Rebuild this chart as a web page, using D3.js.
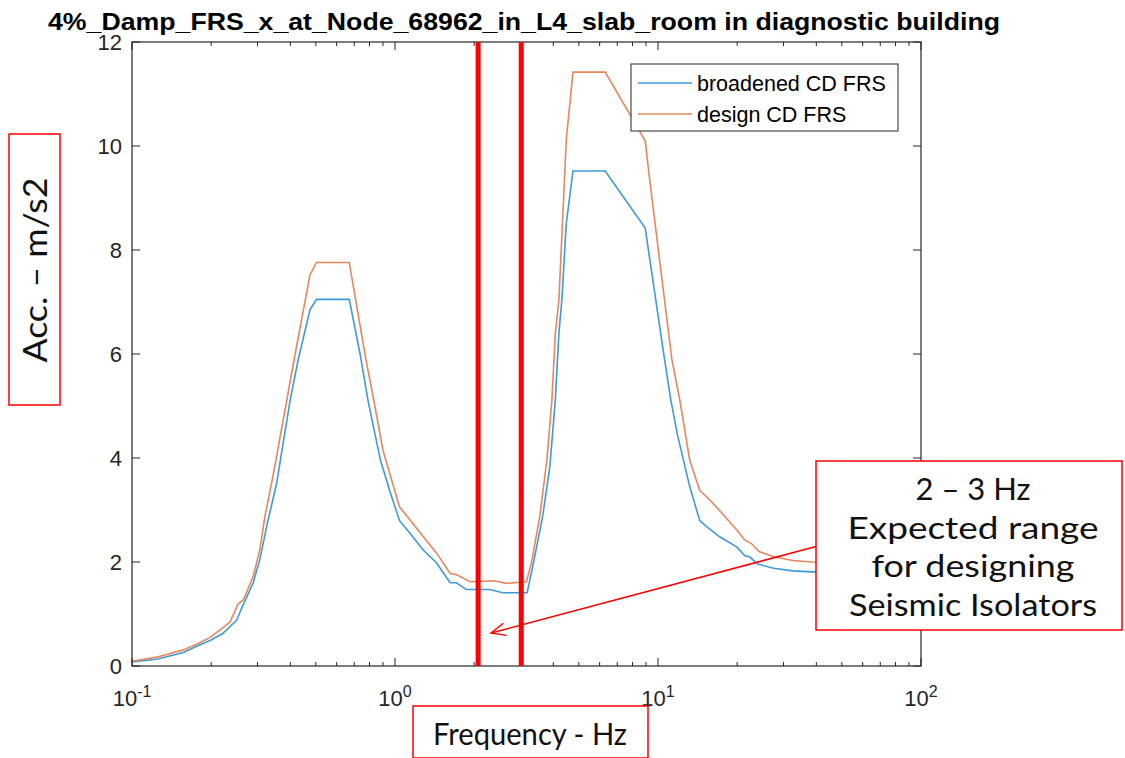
<!DOCTYPE html>
<html><head><meta charset="utf-8">
<script src="https://cdn.jsdelivr.net/npm/d3@7"></script>
<style>body{margin:0;background:#fff;} svg{display:block;}</style>
</head><body>
<svg id="c" width="1125" height="758"></svg>
<script>
// ---- data ----
const titleText = "4%_Damp_FRS_x_at_Node_68962_in_L4_slab_room in diagnostic building";
const seriesNames = ["broadened CD FRS", "design CD FRS"];
const blueFreq = [0.1,0.124,0.157,0.176,0.198,0.222,0.236,0.25,0.26,0.289,0.306,0.325,0.355,0.399,0.428,0.475,0.503,0.67,0.736,0.79,0.88,0.96,1.04,1.17,1.28,1.44,1.62,1.71,1.87,2.29,2.57,3.18,3.34,3.64,3.88,4.07,4.2,4.31,4.48,4.75,6.3,8.94,10.6,11.2,11.9,13.2,14.4,15.3,17.1,19.9,21.4,22.3,23.9,27.5,32.6,38.5,42];
const blueAcc  = [0.08,0.13,0.26,0.38,0.49,0.63,0.76,0.88,1.09,1.6,2.04,2.68,3.52,5.1,5.88,6.85,7.05,7.05,6.01,5.1,3.96,3.33,2.8,2.48,2.23,1.98,1.6,1.6,1.47,1.47,1.41,1.41,1.91,2.87,3.83,5.12,6.4,7.04,8.51,9.52,9.52,8.42,5.88,5.1,4.41,3.45,2.8,2.68,2.49,2.29,2.12,2.1,1.96,1.88,1.83,1.81,1.8];
const orangeFreq = [0.1,0.124,0.157,0.176,0.198,0.222,0.236,0.253,0.265,0.289,0.306,0.32,0.345,0.388,0.413,0.475,0.503,0.67,0.776,0.83,0.9,0.98,1.04,1.17,1.28,1.44,1.62,1.71,1.93,2.38,2.65,3.16,3.3,3.55,3.78,3.95,4.07,4.2,4.48,4.75,6.3,8.94,9.3,11.3,12.1,13.2,14.4,16.2,19.9,21.4,22.6,24.2,27.5,32.6,38.5,42];
const orangeAcc  = [0.09,0.17,0.31,0.42,0.55,0.74,0.85,1.19,1.27,1.72,2.23,2.87,3.7,5.12,5.88,7.52,7.76,7.76,5.88,5.12,4.15,3.51,3.06,2.74,2.49,2.17,1.78,1.76,1.62,1.64,1.59,1.62,1.97,2.87,3.96,5.12,6.4,7.04,10.12,11.42,11.42,10.1,9.35,5.88,5.12,3.96,3.38,3.13,2.62,2.42,2.36,2.2,2.1,2.03,2.0,1.99];
const markerFreqs = [2.07, 3.02];
const yTicks = [0,2,4,6,8,10,12];
const xMajor = [0.1,1,10,100];
const xExps = ["-1","0","1","2"];
const annotationLines = ["2 \u2013 3 Hz","Expected range","for designing","Seismic Isolators"];
const yLabel = "Acc. \u2013 m/s2";
const xLabel = "Frequency - Hz";

// ---- drawing ----
const svg = d3.select("#c");
const L=132,R=921,T=42,B=666;
const x = d3.scaleLog().domain([0.1,100]).range([L,R]);
const y = d3.scaleLinear().domain([0,12]).range([B,T]);
const axisCol = "#262626";
const blue = "#3f9ad8", orange = "#e6875e";

// curves
const line = d3.line().x(d=>x(d[0])).y(d=>y(d[1]));
svg.append("path").datum(blueFreq.map((f,i)=>[f,blueAcc[i]]))
  .attr("d",line).attr("fill","none").attr("stroke",blue).attr("stroke-width",1.6);
svg.append("path").datum(orangeFreq.map((f,i)=>[f,orangeAcc[i]]))
  .attr("d",line).attr("fill","none").attr("stroke",orange).attr("stroke-width",1.6);

// frame
svg.append("rect").attr("x",L).attr("y",T).attr("width",R-L).attr("height",B-T)
  .attr("fill","none").attr("stroke",axisCol).attr("stroke-width",1.2);

// ticks
const minor=[];
[0.1,1,10].forEach(d=>{for(let k=2;k<=9;k++) minor.push(d*k);});
const gx = svg.append("g").attr("stroke",axisCol).attr("stroke-width",1);
xMajor.forEach(v=>{
  gx.append("line").attr("x1",x(v)).attr("x2",x(v)).attr("y1",B).attr("y2",B-8);
  gx.append("line").attr("x1",x(v)).attr("x2",x(v)).attr("y1",T).attr("y2",T+8);
});
minor.forEach(v=>{
  gx.append("line").attr("x1",x(v)).attr("x2",x(v)).attr("y1",B).attr("y2",B-4);
  gx.append("line").attr("x1",x(v)).attr("x2",x(v)).attr("y1",T).attr("y2",T+4);
});
yTicks.forEach(v=>{
  gx.append("line").attr("x1",L).attr("x2",L+8).attr("y1",y(v)).attr("y2",y(v));
  gx.append("line").attr("x1",R).attr("x2",R-8).attr("y1",y(v)).attr("y2",y(v));
});

// tick labels
const font = "'Liberation Sans', Arial, Helvetica, sans-serif";
svg.append("g").selectAll("text").data(yTicks).join("text")
  .attr("x",L-10).attr("y",d=>y(d)).attr("dy","0.36em")
  .attr("text-anchor","end").attr("font-family",font).attr("font-size",22)
  .attr("fill",axisCol).text(d=>d);
const xt = svg.append("g").selectAll("text").data(xMajor).join("text")
  .attr("x",d=>x(d)).attr("y",706).attr("text-anchor","middle")
  .attr("font-family",font).attr("font-size",22).attr("fill",axisCol);
xt.append("tspan").text("10");
xt.append("tspan").attr("dy",-9).attr("font-size",16).text((d,i)=>xExps[i]);

// red vertical markers
svg.append("g").selectAll("line").data(markerFreqs).join("line")
  .attr("x1",d=>x(d)).attr("x2",d=>x(d)).attr("y1",T).attr("y2",B)
  .attr("stroke","#ff0000").attr("stroke-width",5);

// legend
const lg = svg.append("g");
lg.append("rect").attr("x",631).attr("y",64).attr("width",267).attr("height",67)
  .attr("fill","#fff").attr("stroke",axisCol).attr("stroke-width",1);
[blue,orange].forEach((c,i)=>{
  const yy = 83 + i*31;
  lg.append("line").attr("x1",638).attr("x2",692).attr("y1",yy).attr("y2",yy)
    .attr("stroke",c).attr("stroke-width",1.6);
  lg.append("text").attr("x",697).attr("y",yy).attr("dy","0.36em")
    .attr("font-family",font).attr("font-size",21.5).attr("fill","#000").text(seriesNames[i]);
});

// title
svg.append("text").attr("x",524).attr("y",30).attr("text-anchor","middle")
  .attr("font-family",font).attr("font-weight","bold").attr("font-size",23)
  .attr("textLength",952).attr("lengthAdjust","spacingAndGlyphs").text(titleText);

// arrow
const defs = svg.append("defs");
defs.append("marker").attr("id","ah").attr("viewBox","0 0 20 20").attr("refX",18).attr("refY",10)
  .attr("markerWidth",18).attr("markerHeight",18).attr("markerUnits","userSpaceOnUse").attr("orient","auto")
  .append("path").attr("d","M2,3 L18,10 L2,17").attr("fill","none").attr("stroke","#ff0000").attr("stroke-width",1.6);
svg.append("line").attr("x1",818).attr("y1",546).attr("x2",491).attr("y2",633)
  .attr("stroke","#ff0000").attr("stroke-width",1.5).attr("marker-end","url(#ah)");

// annotation box
const gf = "Lato, 'Open Sans', sans-serif";
svg.append("rect").attr("x",816).attr("y",461).attr("width",306).attr("height",169)
  .attr("fill","#fff").attr("stroke","#ff0000").attr("stroke-width",1.5);
const annW=[115,251,203,248];
svg.append("g").selectAll("text").data(annotationLines).join("text")
  .attr("x",973).attr("y",(d,i)=>500+i*38.5).attr("text-anchor","middle")
  .attr("font-family",gf).attr("font-size",31).attr("fill","#111")
  .attr("textLength",(d,i)=>annW[i]).attr("lengthAdjust","spacingAndGlyphs").text(d=>d);

// y label box
svg.append("rect").attr("x",9).attr("y",134).attr("width",51).attr("height",271)
  .attr("fill","#fff").attr("stroke","#ff0000").attr("stroke-width",1.5);
svg.append("text").attr("transform","translate(47,270) rotate(-90)").attr("text-anchor","middle")
  .attr("font-family",gf).attr("font-size",32).attr("fill","#111")
  .attr("textLength",185).attr("lengthAdjust","spacingAndGlyphs").text(yLabel);

// x label box
svg.append("rect").attr("x",413).attr("y",706).attr("width",235).attr("height",52)
  .attr("fill","#fff").attr("stroke","#ff0000").attr("stroke-width",1.5);
svg.append("text").attr("x",530).attr("y",745).attr("text-anchor","middle")
  .attr("font-family",gf).attr("font-size",31).attr("fill","#111")
  .attr("textLength",194).attr("lengthAdjust","spacingAndGlyphs").text(xLabel);
</script>
</body></html>
